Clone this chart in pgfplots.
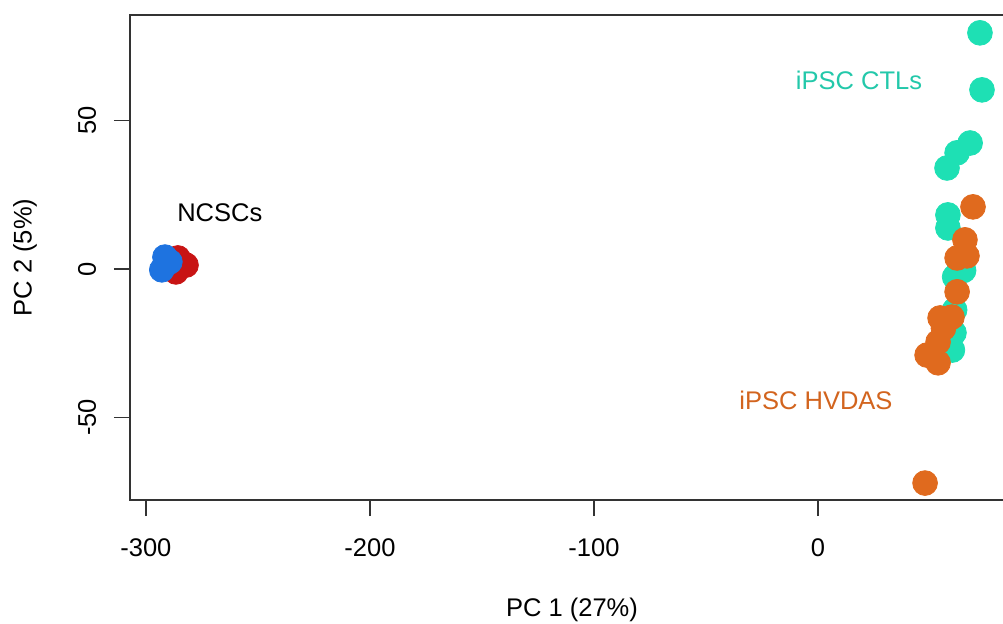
\documentclass[border=0pt]{standalone}
\usepackage{pgfplots}
\pgfplotsset{compat=1.18}
\usepackage{fontspec}
\setmainfont{Liberation Sans}
\definecolor{ctl}{RGB}{30,224,180}
\definecolor{ctltxt}{RGB}{35,200,170}
\definecolor{hvd}{RGB}{224,106,30}
\definecolor{hvdtxt}{RGB}{210,100,30}
\definecolor{ncred}{RGB}{200,20,20}
\definecolor{ncblue}{RGB}{30,115,224}
\begin{document}
\begin{tikzpicture}
\useasboundingbox (0,0) rectangle (501.5bp,312bp);
\begin{axis}[
  at={(65bp,62bp)}, anchor=south west,
  scale only axis, width=442bp, height=242.5bp,
  xmin=-307.1, xmax=87.5, ymin=-77.8, ymax=85.5,
  font=\fontsize{12.8}{15}\selectfont,
  axis line style={black!80, line width=0.9bp},
  tick style={black!80, line width=0.9bp},
  tick align=outside, major tick length=8bp,
  xtick pos=bottom, ytick pos=left,
  xtick={-300,-200,-100,0}, xticklabels={-300,-200,-100,0},
  ytick={-50,0,50}, yticklabels={-50,0,50},
  xticklabel style={anchor=center, yshift=-16bp},
  yticklabel style={rotate=90, anchor=center, yshift=13.5bp},
  xlabel={PC 1 (27\%)}, ylabel={PC 2 (5\%)},
  xlabel style={at={(axis description cs:0.5,0)}, anchor=center, yshift=-55bp},
  ylabel style={at={(axis description cs:0,0.5)}, anchor=center, yshift=52.5bp},
  clip=false,
]
\addplot[only marks, mark=*, mark size=6.2bp, color=ctl] coordinates {
(72.3,79.5) (73.2,60.3) (67.9,42.4) (62.1,39.1) (57.6,34.0) (58.0,18.2) (58.0,13.8)
(63.4,0.7) (65.0,-0.5) (61.0,-2.7) (64.5,3.5) (61.0,-13.8) (60.7,-21.5) (60.0,-27.3) (59.0,-24.0)
};
\addplot[only marks, mark=*, mark size=6.2bp, color=hvd] coordinates {
(69.2,20.9) (65.6,9.8) (66.5,4.4) (62.1,3.7) (62.1,-7.7) (54.5,-16.5) (59.8,-16.2)
(56.0,-20.0) (53.6,-24.6) (48.7,-29.0) (53.6,-31.6) (47.8,-72.1)
};
\addplot[only marks, mark=*, mark size=6.2bp, color=ncred] coordinates {
(-285.7,3.7) (-282.1,1.3) (-286.6,-1.0)
};
\addplot[only marks, mark=*, mark size=6.2bp, color=ncblue] coordinates {
(-291.5,4.0) (-292.9,-0.3) (-289.3,2.4)
};
\node[text=black] at (axis cs:-267,18.9) {NCSCs};
\node[text=ctltxt] at (axis cs:18.3,63.6) {iPSC CTLs};
\node[text=hvdtxt] at (axis cs:-0.9,-44.1) {iPSC HVDAS};
\end{axis}
\end{tikzpicture}
\end{document}
